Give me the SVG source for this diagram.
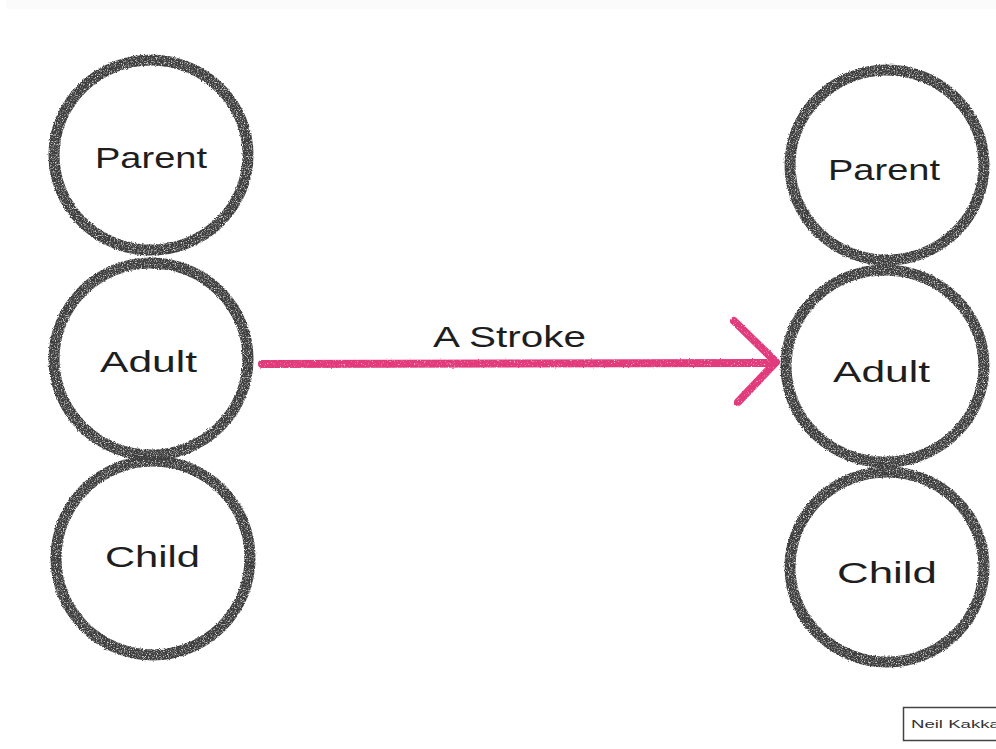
<svg xmlns="http://www.w3.org/2000/svg" width="996" height="749" viewBox="0 0 996 749">
  <defs>
    <style>
      .ring { fill: none; stroke: #3c3c3c; stroke-width: 11; filter: url(#charcoal); }
      .lbl { font-family: "Liberation Sans", "DejaVu Sans", sans-serif; font-size: 29px; fill: #1e1e1e; text-anchor: start; }
      .pen { fill: none; stroke: #e23a7c; stroke-width: 8; stroke-linecap: round; stroke-linejoin: round; filter: url(#crayon); }
    </style>
    <!-- grainy charcoal stroke -->
    <filter id="charcoal" x="-10%" y="-10%" width="120%" height="120%">
      <feTurbulence type="fractalNoise" baseFrequency="0.85" numOctaves="2" seed="4" result="noise"/>
      <feDisplacementMap in="SourceGraphic" in2="noise" scale="3" xChannelSelector="R" yChannelSelector="G" result="rough"/>
      <feColorMatrix in="noise" type="matrix" values="0 0 0 0 0  0 0 0 0 0  0 0 0 0 0  2.6 0 0 0 -0.35" result="grain"/>
      <feComposite in="rough" in2="grain" operator="in"/>
    </filter>
    <!-- crayon texture; user-space region so flat strokes are not clipped -->
    <filter id="crayon" filterUnits="userSpaceOnUse" x="240" y="300" width="560" height="120">
      <feTurbulence type="fractalNoise" baseFrequency="0.7" numOctaves="2" seed="9" result="noise"/>
      <feDisplacementMap in="SourceGraphic" in2="noise" scale="2" xChannelSelector="R" yChannelSelector="G" result="rough"/>
      <feColorMatrix in="noise" type="matrix" values="0 0 0 0 0  0 0 0 0 0  0 0 0 0 0  3 0 0 0 -0.15" result="grain"/>
      <feComposite in="rough" in2="grain" operator="in"/>
    </filter>
  </defs>

  <rect width="996" height="749" fill="#ffffff"/>
  <rect x="6" y="0" width="990" height="9" fill="#fbfbfb"/>

  <!-- left column -->
  <g id="left-parent">
    <ellipse class="ring" cx="151" cy="155" rx="97" ry="95"/>
    <text class="lbl" x="95" y="168" textLength="112" lengthAdjust="spacingAndGlyphs">Parent</text>
  </g>
  <g id="left-adult">
    <ellipse class="ring" cx="151" cy="359" rx="97" ry="96"/>
    <text class="lbl" x="100" y="372" textLength="97" lengthAdjust="spacingAndGlyphs">Adult</text>
  </g>
  <g id="left-child">
    <ellipse class="ring" cx="153" cy="558" rx="97" ry="97"/>
    <text class="lbl" x="105" y="567" textLength="95" lengthAdjust="spacingAndGlyphs">Child</text>
  </g>

  <!-- right column -->
  <g id="right-parent">
    <ellipse class="ring" cx="887" cy="165" rx="97" ry="95"/>
    <text class="lbl" x="828" y="180" textLength="112" lengthAdjust="spacingAndGlyphs">Parent</text>
  </g>
  <g id="right-adult">
    <ellipse class="ring" cx="885" cy="366" rx="99" ry="96"/>
    <text class="lbl" x="833" y="382" textLength="97" lengthAdjust="spacingAndGlyphs">Adult</text>
  </g>
  <g id="right-child">
    <ellipse class="ring" cx="887" cy="567" rx="97" ry="95"/>
    <text class="lbl" x="837" y="583" textLength="100" lengthAdjust="spacingAndGlyphs">Child</text>
  </g>

  <!-- connectors -->
  <g id="connectors">
    <path class="pen" d="M262 364 L774 363"/>
    <path class="pen" d="M734 321 L776 362 L738 402"/>
    <text class="lbl" x="433" y="347" textLength="153" lengthAdjust="spacingAndGlyphs">A Stroke</text>
  </g>

  <!-- author tag -->
  <g id="signature">
    <rect x="903.5" y="707.5" width="100" height="33" fill="#ffffff" stroke="#444" stroke-width="1.5"/>
    <text x="911" y="728" font-family="Liberation Sans, DejaVu Sans, sans-serif" font-size="10" fill="#333" textLength="95" lengthAdjust="spacingAndGlyphs">Neil Kakkar</text>
  </g>
</svg>
